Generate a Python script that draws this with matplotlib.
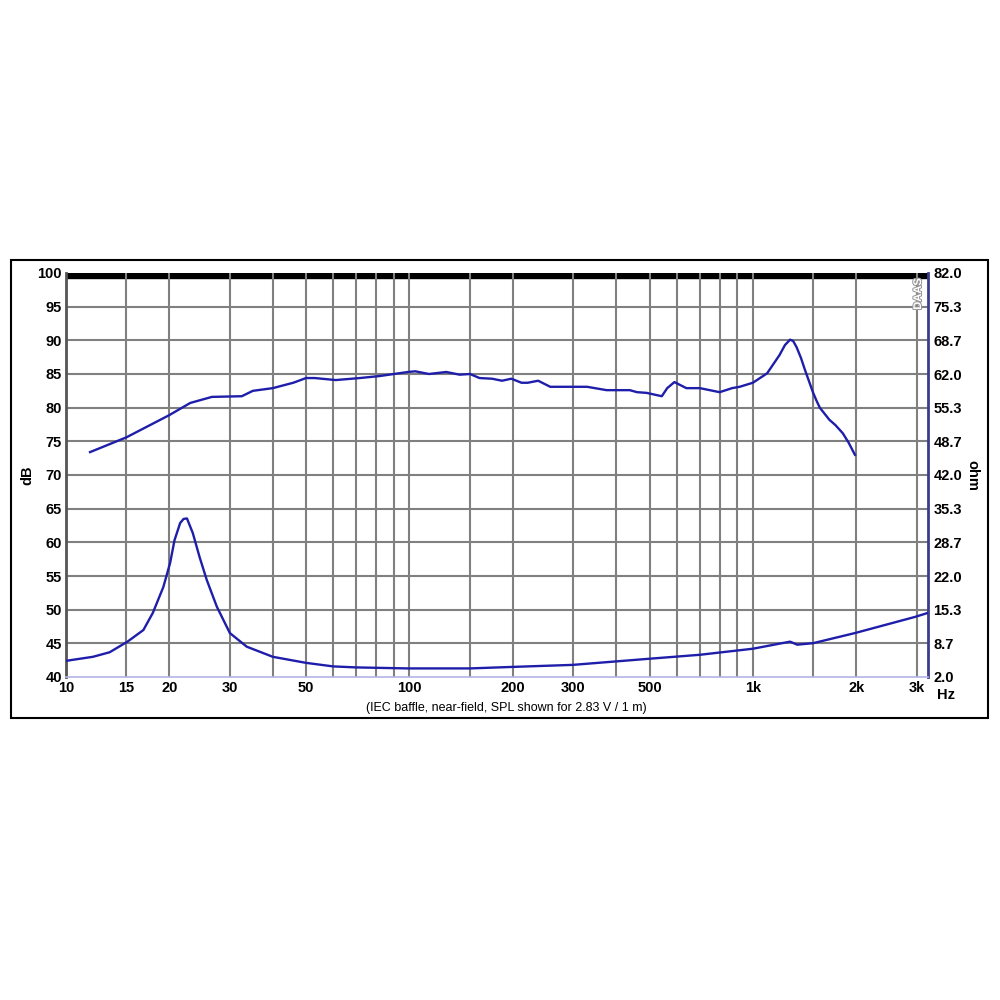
import numpy as np
import matplotlib.pyplot as plt
import matplotlib.patheffects as pe
from matplotlib.patches import Rectangle

plt.rcParams['font.family'] = ['Liberation Sans', 'DejaVu Sans']

# Respuesta en frecuencia (SPL, dB)
spl_f = [11.75, 15, 20, 23, 26.6, 32.5, 35, 40, 45.9, 50, 53, 61, 71.7, 82, 99,
         104, 114, 128, 140, 150, 160, 174, 186, 198, 212, 221, 237, 257, 299,
         329, 375, 438, 460, 490, 543, 563, 591, 640, 701, 800, 870, 915, 1000,
         1100, 1195, 1240, 1283, 1310, 1340, 1380, 1418, 1498, 1530, 1566, 1670,
         1740, 1827, 1900, 1982]
spl_db = [73.4, 75.6, 78.9, 80.7, 81.6, 81.7, 82.5, 82.9, 83.7, 84.4, 84.4, 84.1,
          84.4, 84.7, 85.3, 85.4, 85.0, 85.3, 84.9, 85.0, 84.4, 84.3, 84.0, 84.3,
          83.7, 83.7, 84.0, 83.1, 83.1, 83.1, 82.6, 82.6, 82.3, 82.2, 81.7, 82.9,
          83.8, 82.9, 82.9, 82.3, 82.9, 83.1, 83.7, 85.1, 87.8, 89.3, 90.1, 89.9,
          89.0, 87.4, 85.6, 82.2, 81.1, 80.0, 78.2, 77.4, 76.2, 74.8, 73.0]

# Impedancia (ohm)
imp_f = [10, 11.98, 13.4, 15.1, 16.8, 17.9, 19.2, 20.1, 20.7, 21.5, 22.0, 22.5,
         23.4, 24.5, 25.7, 27.5, 30, 33.6, 40, 50, 59.9, 69.9, 98.9, 150, 200,
         299, 496, 701, 1000, 1283, 1346, 1498, 1982, 2966, 3235]
imp_ohm = [5.2, 6.0, 6.9, 9.0, 11.3, 14.7, 19.8, 24.6, 29.1, 32.5, 33.3, 33.4,
           30.5, 25.7, 21.2, 15.9, 10.7, 8.0, 6.0, 4.8, 4.1, 3.9, 3.7, 3.7, 4.0,
           4.4, 5.6, 6.4, 7.6, 9.0, 8.4, 8.7, 10.7, 13.9, 14.7]

db_ticks = [40, 45, 50, 55, 60, 65, 70, 75, 80, 85, 90, 95, 100]
ohm_ticks = [2.0, 8.7, 15.3, 22.0, 28.7, 35.3, 42.0, 48.7, 55.3, 62.0, 68.7, 75.3, 82.0]
f_labels = {10: '10', 15: '15', 20: '20', 30: '30', 50: '50', 100: '100',
            200: '200', 300: '300', 500: '500', 1000: '1k', 2000: '2k', 3000: '3k'}
f_grid = [m * d for d in (10, 100, 1000) for m in (1, 1.5, 2, 3, 4, 5, 6, 7, 8, 9)]

azul = '#1e1eaa'
fs = 10.5

fig = plt.figure(figsize=(10, 10), dpi=100)
fig.patches.append(Rectangle((0.011, 0.282), 0.977, 0.458, transform=fig.transFigure,
                             fill=False, edgecolor='black', linewidth=1.5))

ax = fig.add_axes([0.066, 0.323, 0.862, 0.404])
ax.set_xscale('log')
ax.set_xlim(10, 3235)
ax.set_ylim(40, 100)

for f in f_grid:
    if 10 < f < 3235:
        ax.axvline(f, color='#808080', linewidth=1.5, zorder=1)
for y in db_ticks[1:-1]:
    ax.axhline(y, color='#808080', linewidth=1.5, zorder=1)
ax.axhspan(99.25, 100, color='black', zorder=0.5)

ax.set_xticks(list(f_labels.keys()))
ax.set_xticklabels(list(f_labels.values()))
ax.xaxis.set_minor_locator(plt.NullLocator())
ax.set_yticks(db_ticks)
ax.tick_params(length=0, labelsize=fs, pad=3)
for lab in ax.get_xticklabels() + ax.get_yticklabels():
    lab.set_fontweight('bold')

ax.spines['top'].set_visible(False)
ax.spines['left'].set_color('#555555')
ax.spines['left'].set_linewidth(2)
ax.spines['bottom'].set_color('#b4b4e6')
ax.spines['bottom'].set_linewidth(1.2)
ax.spines['right'].set_color('#3c3c8c')
ax.spines['right'].set_linewidth(2)

ax.plot(spl_f, spl_db, color=azul, linewidth=1.7, zorder=3)

ax2 = ax.twinx()
ax2.set_ylim(2, 82)
ax2.set_yticks(ohm_ticks)
ax2.set_yticklabels(['%.1f' % v for v in ohm_ticks])
ax2.tick_params(length=0, labelsize=fs, pad=4)
for lab in ax2.get_yticklabels():
    lab.set_fontweight('bold')
for s in ax2.spines.values():
    s.set_visible(False)
ax2.plot(imp_f, imp_ohm, color=azul, linewidth=1.7, zorder=3)

ax.set_ylabel('dB', fontsize=fs, fontweight='bold', labelpad=2)
ax2.set_ylabel('ohm', fontsize=fs, fontweight='bold', rotation=270, labelpad=12)

fig.text(0.937, 0.305, 'Hz', fontsize=fs, fontweight='bold', ha='left', va='center')
fig.text(0.506, 0.292, '(IEC baffle, near-field, SPL shown for 2.83 V / 1 m)',
         fontsize=9, ha='center', va='center')
fig.text(0.918, 0.706, 'DAAS', rotation=90, fontsize=8, ha='center', va='center',
         color='white', fontweight='bold',
         path_effects=[pe.withStroke(linewidth=1.5, foreground='#999999')])

fig.savefig('out.png', dpi=100)
